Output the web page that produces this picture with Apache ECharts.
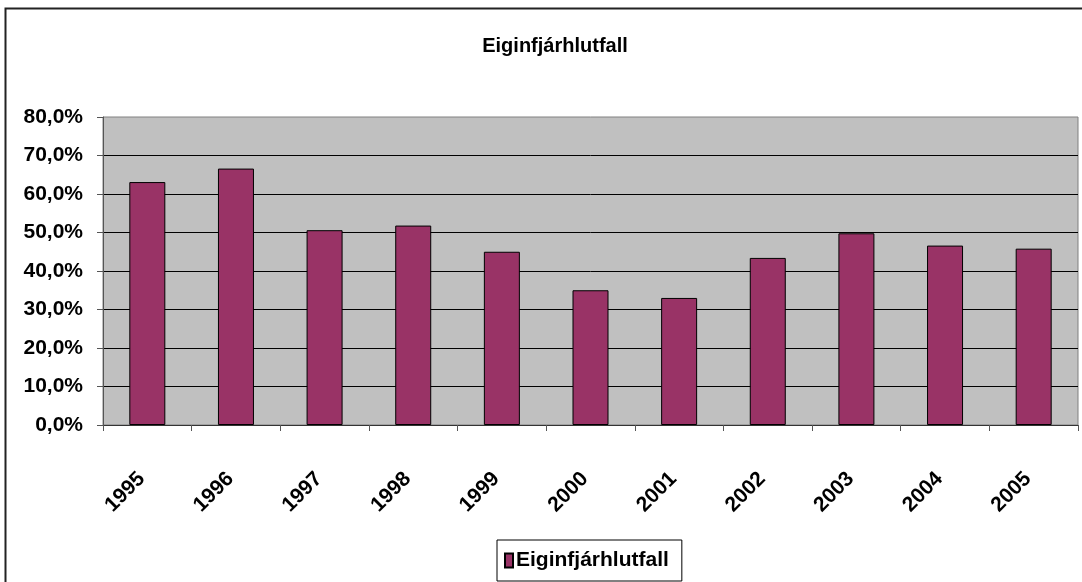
<!DOCTYPE html>
<html>
<head>
<meta charset="utf-8">
<script src="https://cdn.jsdelivr.net/npm/echarts@6/dist/echarts.min.js"></script>
<style>
html,body{margin:0;padding:0;background:#fff;}
#c{width:1082px;height:582px;}
</style>
</head>
<body>
<div id="c"></div>
<script>
const chartTitle = 'Eiginfjárhlutfall';
const seriesName = 'Eiginfjárhlutfall';
const categories = ['1995','1996','1997','1998','1999','2000','2001','2002','2003','2004','2005'];
const values = [63.1, 66.6, 50.6, 51.8, 45.0, 35.0, 33.0, 43.4, 49.8, 46.6, 45.8];
const yMin = 0, yMax = 80, yStep = 10;

const FONT = '"Liberation Sans", Arial, sans-serif';
const chart = echarts.init(document.getElementById('c'), null, {renderer: 'canvas'});
chart.setOption({
  animation: false,
  backgroundColor: '#ffffff',
  textStyle: {fontFamily: FONT},
  title: {
    text: chartTitle,
    left: 550,
    top: 31,
    textAlign: 'center',
    textStyle: {fontFamily: FONT, fontSize: 20, fontWeight: 'bold', color: '#000'}
  },
  graphic: [{
    type: 'rect',
    shape: {x: 5.5, y: 8.5, width: 2000, height: 2000},
    style: {fill: null, stroke: '#222', lineWidth: 2},
    silent: true, z: 100
  }],
  legend: {
    left: 497,
    top: 540,
    padding: [10, 13, 10, 7],
    borderColor: '#000',
    borderWidth: 1,
    backgroundColor: '#fff',
    itemWidth: 8,
    itemHeight: 14,
    itemGap: 0,
    textStyle: {fontFamily: FONT, fontSize: 21, fontWeight: 'bold', color: '#000', padding: [0, 0, 0, -2]},
    data: [{name: seriesName, icon: 'rect'}]
  },
  grid: {
    left: 103, right: 4, top: 117, bottom: 157,
    show: true,
    backgroundColor: '#C0C0C0',
    borderColor: '#808080',
    borderWidth: 1,
    containLabel: false
  },
  xAxis: {
    type: 'category',
    data: categories,
    boundaryGap: true,
    axisLine: {show: true, lineStyle: {color: '#333', width: 1}},
    axisTick: {show: true, alignWithLabel: false, length: 6, inside: false, lineStyle: {color: '#555'}},
    axisLabel: {
      rotate: 45, margin: 45, interval: 0, padding: [0, 8, 0, 0],
      fontFamily: FONT, fontSize: 21, fontWeight: 'bold', color: '#000'
    },
    splitLine: {show: false}
  },
  yAxis: {
    type: 'value',
    min: yMin, max: yMax, interval: yStep,
    axisLine: {show: true, lineStyle: {color: '#555', width: 1}},
    axisTick: {show: true, length: 6, lineStyle: {color: '#555'}},
    axisLabel: {
      margin: 20,
      fontFamily: FONT, fontSize: 21, fontWeight: 'bold', color: '#000',
      formatter: v => v.toFixed(1).replace('.', ',') + '%'
    },
    splitLine: {show: true, showMaxLine: false, lineStyle: {color: '#000', width: 1}}
  },
  series: [{
    name: seriesName,
    type: 'bar',
    data: values,
    barWidth: 36,
    itemStyle: {color: '#993366', borderColor: '#000', borderWidth: 1}
  }]
});
</script>
</body>
</html>
